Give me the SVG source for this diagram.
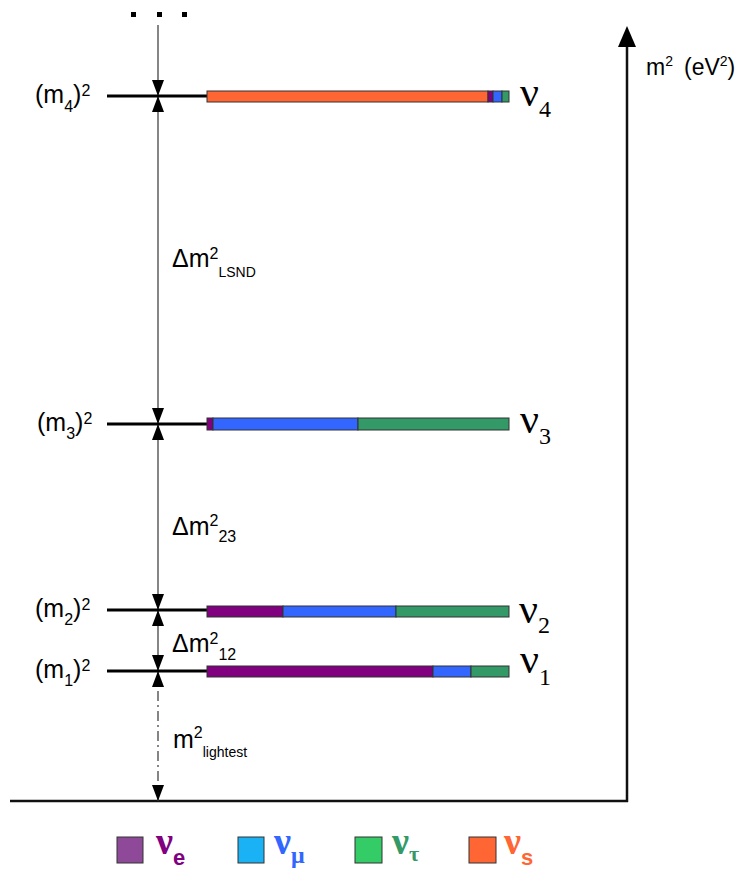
<svg xmlns="http://www.w3.org/2000/svg" width="750" height="873" viewBox="0 0 750 873">
<style>
.lvl{stroke:#000;stroke-width:3;fill:none}
.conn{stroke:#444;stroke-width:1.3;fill:none}
.bar rect{stroke:#333;stroke-width:1}
.lab{font-family:"Liberation Sans",Arial,sans-serif;font-size:25px;fill:#000}
.sm{font-size:16px}
.ss{font-size:14px}
.nu{font-family:"Liberation Serif","Times New Roman",serif;font-size:42px;fill:#000}
.nus{font-size:24px}
.leg{font-family:"Liberation Serif","Times New Roman",serif;font-size:38px;font-weight:bold}
.legs{font-family:"Liberation Sans",Arial,sans-serif;font-size:22px;font-weight:bold}
.pe{fill:#800080}.pm{fill:#3366FF}.pt{fill:#339966}.ps{fill:#FF6633}
</style>
<defs>
<marker id="ah" viewBox="0 0 16 12" refX="16" refY="6" markerWidth="16" markerHeight="12" markerUnits="userSpaceOnUse" orient="auto-start-reverse">
<path d="M0,0 L16,6 L0,12 z" fill="#000"/>
</marker>
</defs>
<rect width="750" height="873" fill="#fff"/>

<g id="axes">
<line x1="10" y1="801" x2="628" y2="801" stroke="#111" stroke-width="2.5"/>
<line x1="627" y1="802" x2="627" y2="45" stroke="#111" stroke-width="2.5"/>
<path d="M618,47 L627,26 L636,47 z" fill="#000"/>
<text class="lab" x="646" y="75" style="font-size:23px">m<tspan class="sm" dy="-9" style="font-size:14px">2</tspan></text>
<text class="lab" x="684" y="75" style="font-size:23px">(eV<tspan dy="-9" style="font-size:14px">2</tspan><tspan dy="9">)</tspan></text>
</g>

<g id="dots" fill="#000">
<rect x="131" y="12" width="5" height="5"/>
<rect x="157" y="12" width="5" height="5"/>
<rect x="182" y="12" width="5" height="5"/>
</g>

<g id="connectors">
<line class="conn" x1="158" y1="25" x2="158" y2="96" marker-end="url(#ah)"/>
<line class="conn" x1="158" y1="96" x2="158" y2="424" marker-start="url(#ah)" marker-end="url(#ah)"/>
<line class="conn" x1="158" y1="424" x2="158" y2="610" marker-start="url(#ah)" marker-end="url(#ah)"/>
<line class="conn" x1="158" y1="610" x2="158" y2="671" marker-start="url(#ah)" marker-end="url(#ah)"/>
<line class="conn" x1="158" y1="671" x2="158" y2="801" stroke-dasharray="10 4 2 4" marker-start="url(#ah)" marker-end="url(#ah)"/>
</g>

<g id="level4">
<line class="lvl" x1="107" y1="96" x2="207" y2="96"/>
<text class="lab" x="35" y="103">(m<tspan class="sm" dy="9">4</tspan><tspan dy="-9">)</tspan><tspan class="sm" dy="-7">2</tspan></text>
<g class="bar">
<rect x="207" y="91" width="281" height="11" fill="#FF6633"/>
<rect x="488" y="91" width="5" height="11" fill="#800080"/>
<rect x="493" y="91" width="9" height="11" fill="#3366FF"/>
<rect x="502" y="91" width="7" height="11" fill="#339966"/>
</g>
<text class="nu" x="520" y="106">ν<tspan class="nus" dy="11">4</tspan></text>
</g>

<g id="level3">
<line class="lvl" x1="107" y1="424" x2="207" y2="424"/>
<text class="lab" x="37" y="431">(m<tspan class="sm" dy="8">3</tspan><tspan dy="-8">)</tspan><tspan class="sm" dy="-7">2</tspan></text>
<g class="bar">
<rect x="207" y="418" width="6" height="12" fill="#800080"/>
<rect x="213" y="418" width="145" height="12" fill="#3366FF"/>
<rect x="358" y="418" width="151" height="12" fill="#339966"/>
</g>
<text class="nu" x="520" y="433">ν<tspan class="nus" dy="11">3</tspan></text>
</g>

<g id="level2">
<line class="lvl" x1="107" y1="610" x2="207" y2="610"/>
<text class="lab" x="35" y="617">(m<tspan class="sm" dy="8">2</tspan><tspan dy="-8">)</tspan><tspan class="sm" dy="-7">2</tspan></text>
<g class="bar">
<rect x="207" y="606" width="76" height="11" fill="#800080"/>
<rect x="283" y="606" width="113" height="11" fill="#3366FF"/>
<rect x="396" y="606" width="113" height="11" fill="#339966"/>
</g>
<text class="nu" x="519" y="623">ν<tspan class="nus" dy="10">2</tspan></text>
</g>

<g id="level1">
<line class="lvl" x1="107" y1="671" x2="207" y2="671"/>
<text class="lab" x="35" y="678">(m<tspan class="sm" dy="8">1</tspan><tspan dy="-8">)</tspan><tspan class="sm" dy="-7">2</tspan></text>
<g class="bar">
<rect x="207" y="666" width="226" height="11" fill="#800080"/>
<rect x="433" y="666" width="38" height="11" fill="#3366FF"/>
<rect x="471" y="666" width="38" height="11" fill="#339966"/>
</g>
<text class="nu" x="520" y="673">ν<tspan class="nus" dy="12">1</tspan></text>
</g>

<g id="gap-labels">
<text class="lab" x="172" y="267">Δm<tspan class="sm" dy="-8">2</tspan><tspan class="ss" dy="18">LSND</tspan></text>
<text class="lab" x="172" y="535">Δm<tspan class="sm" dy="-9">2</tspan><tspan class="sm" dy="16">23</tspan></text>
<text class="lab" x="172" y="652">Δm<tspan class="sm" dy="-8">2</tspan><tspan class="sm" dy="16">12</tspan></text>
<text class="lab" x="173" y="748">m<tspan class="sm" dy="-10">2</tspan><tspan class="ss" dy="19">lightest</tspan></text>
</g>

<g id="legend">
<rect x="117" y="837" width="26" height="26" fill="#8E4A99" stroke="#333"/>
<text x="156" y="854"><tspan class="leg pe">ν</tspan><tspan class="legs pe" dy="11">e</tspan></text>
<rect x="238" y="837" width="26" height="26" fill="#1AB2F4" stroke="#333"/>
<text x="274" y="854"><tspan class="leg pm">ν</tspan><tspan class="leg pm" dy="9" style="font-size:24px">μ</tspan></text>
<rect x="355" y="837" width="27" height="26" fill="#33CC66" stroke="#333"/>
<text x="392" y="854"><tspan class="leg pt">ν</tspan><tspan class="leg pt" dy="7" style="font-size:22px">τ</tspan></text>
<rect x="469" y="837" width="27" height="26" fill="#FF6633" stroke="#333"/>
<text x="504" y="854"><tspan class="leg ps">ν</tspan><tspan class="legs ps" dy="11">s</tspan></text>
</g>
</svg>
